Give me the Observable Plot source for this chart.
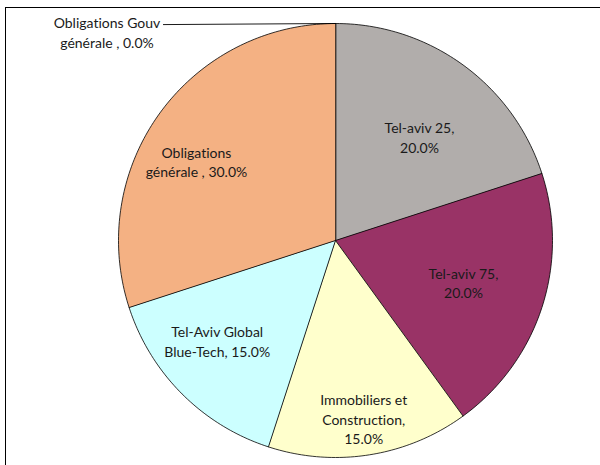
<!DOCTYPE html>
<html><head><meta charset="utf-8">
<script src="https://cdn.jsdelivr.net/npm/d3@7"></script>
<script src="https://cdn.jsdelivr.net/npm/@observablehq/plot@0.6"></script>
<style>
body{margin:0;background:#fff;}
#wrap{position:relative;width:600px;height:465px;overflow:hidden;}
#frame{position:absolute;left:5px;top:7px;width:700px;height:600px;border-top:1px solid #000;border-left:1px solid #000;pointer-events:none;}
svg text{font-variant-ligatures:none;font-feature-settings:"liga" 0, "clig" 0;}
</style>
</head><body>
<div id="wrap"><div id="chart"></div><div id="frame"></div></div>
<script>
// Data
const categories = ["Tel-aviv 25", "Tel-aviv 75", "Immobiliers et Construction", "Tel-Aviv Global Blue-Tech", "Obligations générale", "Obligations Gouv générale"];
const shares = [20, 20, 15, 15, 30, 0];
const labels = ["Tel-aviv 25,\n20.0%", "Tel-aviv 75,\n20.0%", "Immobiliers et\nConstruction,\n15.0%", "Tel-Aviv Global\nBlue-Tech, 15.0%", "Obligations\ngénérale , 30.0%", "Obligations Gouv\ngénérale , 0.0%"];
const colors = ["#b1adab", "#993366", "#ffffcc", "#ccffff", "#f4b183", "#4f81bd"];

// Layout (label placement in polar units: angle from top clockwise, radius fraction)
const labelPolar = [[39, 0.615], [108, 0.62], [171, 0.83], [229.7, 0.715], [299.6, 0.737], [-47.6, 1.426]];

const W = 600, H = 465, cx = 335, cy = 240, R = 217;
const total = d3.sum(shares);
const rad = d => d * Math.PI / 180;
const pt = (aDeg, r) => ({x: Math.sin(rad(aDeg)) * r, y: Math.cos(rad(aDeg)) * r});

let start = 0;
const polys = [];
categories.forEach((c, i) => {
  const span = shares[i] / total * 360;
  const end = start + span;
  if (span > 0) {
    polys.push({cat: c, ...pt(0, 0)});
    const n = Math.max(2, Math.ceil(span));
    for (let k = 0; k <= n; k++) polys.push({cat: c, ...pt(start + span * k / n, 1)});
  }
  start = end;
});

const labelData = labels.map((t, i) => ({text: t, ...pt(labelPolar[i][0], labelPolar[i][1])}));
const gouv = labelData[5];
const leader = [{x: gouv.x + 0.26, y: 0.995}, {x: 0, y: 1}];

const chart = Plot.plot({
  width: W, height: H,
  marginTop: 0, marginRight: 0, marginBottom: 0, marginLeft: 0,
  style: {background: "transparent"},
  x: {domain: [-cx / R, (W - cx) / R], axis: null},
  y: {domain: [-(H - cy) / R, cy / R], axis: null},
  color: {domain: categories, range: colors},
  marks: [
    Plot.line(polys, {x: "x", y: "y", z: "cat", fill: "cat", stroke: "#000", strokeWidth: 0.8, curve: "linear-closed"}),
    Plot.line(leader, {x: "x", y: "y", stroke: "#000", strokeWidth: 0.9}),
    Plot.text(labelData, {x: "x", y: "y", text: "text", fontSize: 14, fontFamily: "Lato, 'Open Sans', sans-serif", fill: "#1a1a1a", lineHeight: 1.38})
  ]
});
document.getElementById("chart").appendChild(chart);
</script>
</body></html>
